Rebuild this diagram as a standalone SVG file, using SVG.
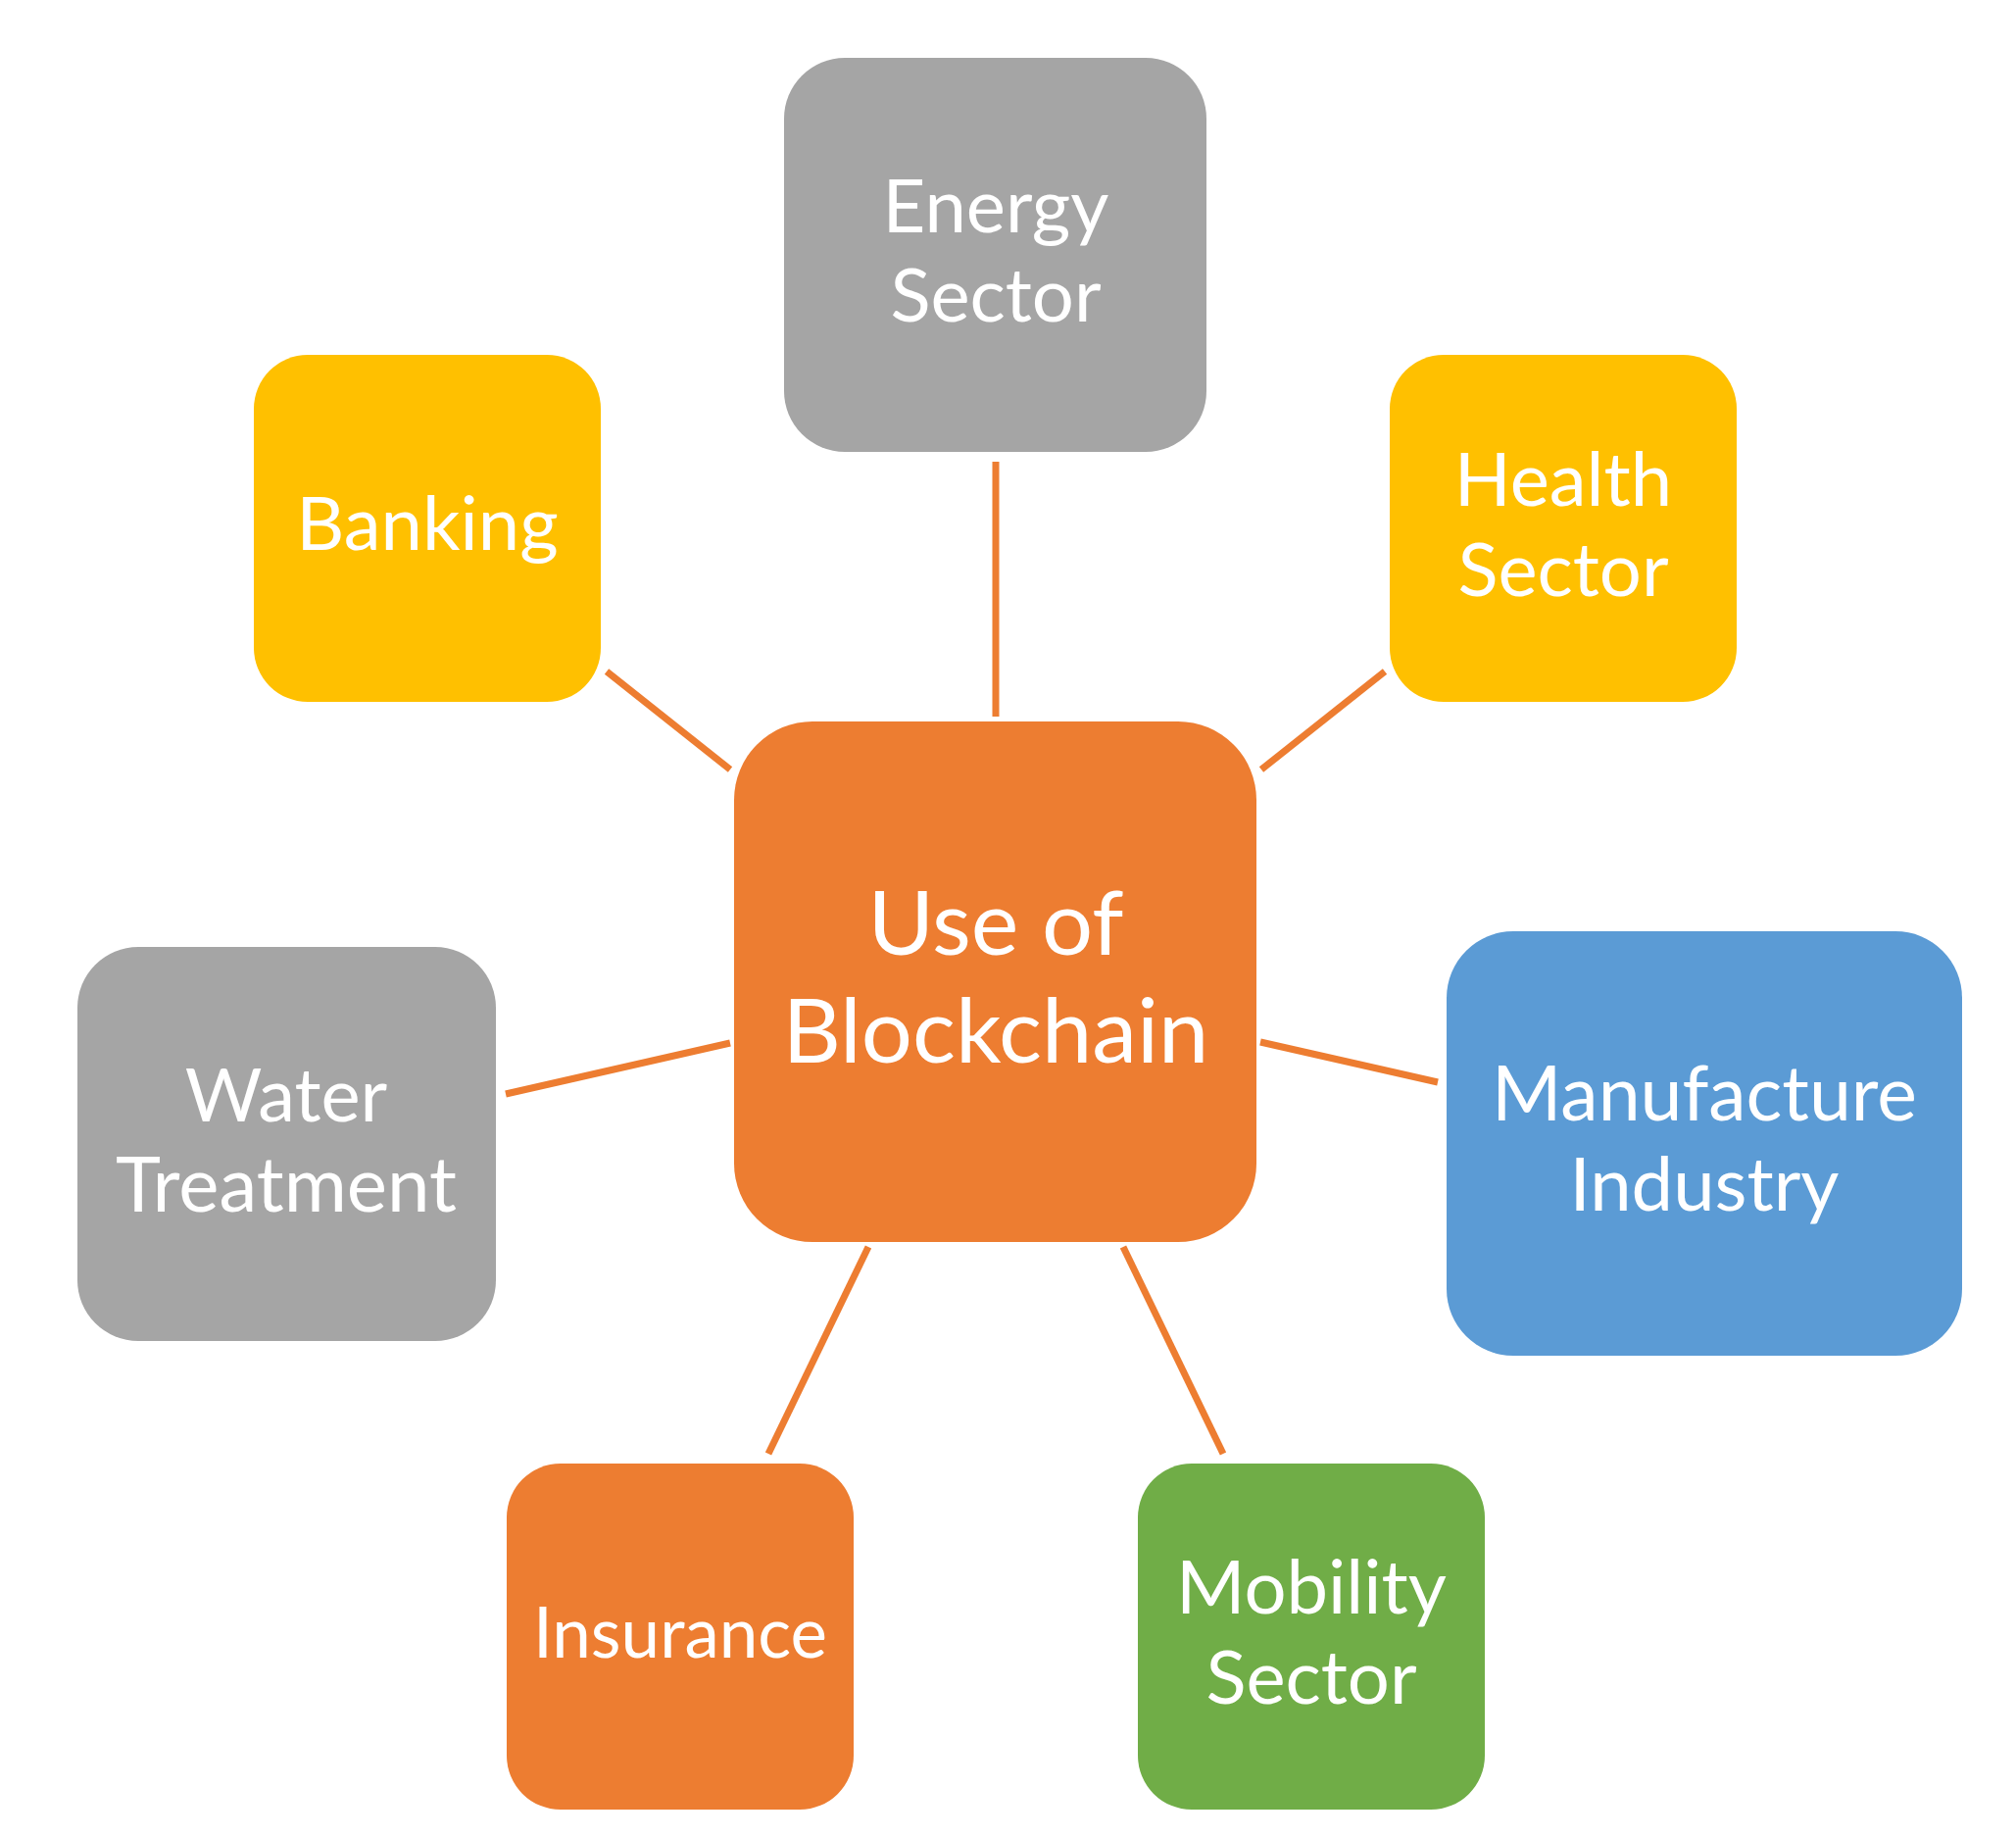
<svg xmlns="http://www.w3.org/2000/svg" width="2057" height="1875" viewBox="0 0 2057 1875">
<style>
.t{font-family:Lato,"Open Sans","Liberation Sans",sans-serif;fill:#FFFFFF;text-anchor:middle;font-size:76px}
.tc{font-size:92px}
.c{stroke:#ED7D31;stroke-width:7;fill:none}
.gray{fill:#A5A5A5}.yel{fill:#FFC000}.org{fill:#ED7D31}.blu{fill:#5B9BD5}.grn{fill:#70AD47}
</style>
<rect width="2057" height="1875" fill="#FFFFFF"/>
<g id="connectors">
<line class="c" x1="1016" y1="471" x2="1016" y2="731"/>
<line class="c" x1="619" y1="685" x2="745" y2="785"/>
<line class="c" x1="1413" y1="685" x2="1287" y2="785"/>
<line class="c" x1="516" y1="1116" x2="745" y2="1064"/>
<line class="c" x1="1286" y1="1063" x2="1467" y2="1104"/>
<line class="c" x1="886" y1="1272" x2="784" y2="1483"/>
<line class="c" x1="1146" y1="1272" x2="1248" y2="1483"/>
</g>
<g id="center">
<rect class="org" x="749" y="736" width="533" height="531" rx="80"/>
<text class="t tc" x="1016" y="974">Use of</text>
<text class="t tc" x="1016" y="1084">Blockchain</text>
</g>
<g id="energy">
<rect class="gray" x="800" y="59" width="431" height="402" rx="62"/>
<text class="t" x="1016" y="237">Energy</text>
<text class="t" x="1016" y="328">Sector</text>
</g>
<g id="banking">
<rect class="yel" x="259" y="362" width="354" height="354" rx="55"/>
<text class="t" x="436" y="561">Banking</text>
</g>
<g id="health">
<rect class="yel" x="1418" y="362" width="354" height="354" rx="55"/>
<text class="t" x="1595" y="516">Health</text>
<text class="t" x="1595" y="608">Sector</text>
</g>
<g id="water">
<rect class="gray" x="79" y="966" width="427" height="402" rx="62"/>
<text class="t" x="292" y="1144">Water</text>
<text class="t" x="292" y="1236" style="font-size:78px">Treatment</text>
</g>
<g id="manufacture">
<rect class="blu" x="1476" y="950" width="526" height="433" rx="68"/>
<text class="t" x="1739" y="1143" style="font-size:77px">Manufacture</text>
<text class="t" x="1739" y="1235">Industry</text>
</g>
<g id="insurance">
<rect class="org" x="517" y="1493" width="354" height="353" rx="55"/>
<text class="t" x="694" y="1691" style="font-size:71px">Insurance</text>
</g>
<g id="mobility">
<rect class="grn" x="1161" y="1493" width="354" height="353" rx="55"/>
<text class="t" x="1338" y="1646">Mobility</text>
<text class="t" x="1338" y="1738">Sector</text>
</g>
</svg>
